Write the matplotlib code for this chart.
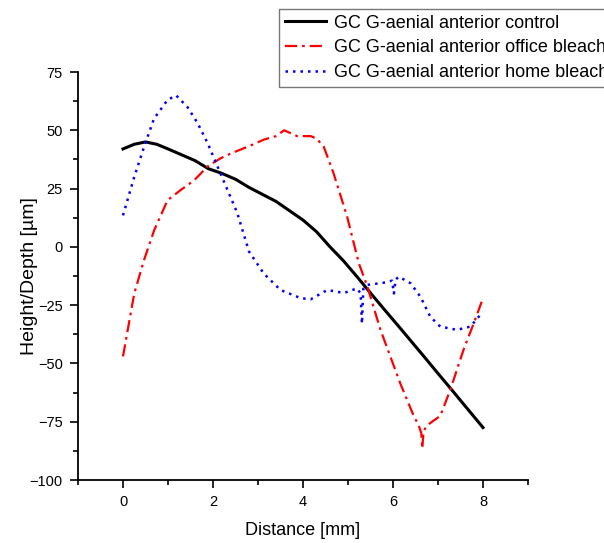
import matplotlib
matplotlib.use("Agg")
import matplotlib.pyplot as plt
from matplotlib.ticker import MultipleLocator

plt.rcParams['font.family'] = ['Liberation Sans', 'DejaVu Sans']

# control (black, solid)
ctrl_x = [0.0, 0.25, 0.5, 0.75, 1.0, 1.3, 1.6, 1.9, 2.2, 2.5, 2.8, 3.1, 3.4, 3.7, 4.0,
          4.3, 4.6, 4.9, 5.2, 5.5, 5.8, 6.1, 6.4, 6.7, 7.0, 7.3, 7.6, 8.0]
ctrl_y = [42.0, 44.0, 45.0, 44.0, 42.0, 39.5, 37.0, 33.5, 31.5, 29.0, 25.5, 22.5, 19.5, 15.5, 11.5,
          6.5, 0.0, -6.0, -12.8, -19.8, -26.7, -33.5, -40.4, -47.3, -54.3, -61.2, -68.2, -77.5]

# office bleach (red, dash-dot)
office_x = [0.0, 0.25, 0.47, 0.69, 0.99, 1.29, 1.58, 1.88, 2.17, 2.39, 2.84, 3.13, 3.4, 3.58,
            3.87, 4.17, 4.3, 4.46, 4.68, 4.98, 5.24, 5.43, 5.72, 6.16, 6.46, 6.57, 6.63, 6.65,
            6.68, 6.76, 7.05, 7.27, 7.57, 7.79, 8.0]
office_y = [-47.0, -20.0, -5.5, 7.0, 20.0, 24.5, 28.5, 34.5, 38.0, 40.0, 43.5, 46.0, 47.5, 50.0,
            47.5, 47.5, 46.5, 43.0, 31.5, 13.0, -7.0, -17.0, -35.5, -58.5, -72.5, -76.5, -80.0, -86.5,
            -79.0, -76.5, -72.5, -61.5, -44.0, -33.0, -22.0]

# home bleach (blue, dotted)
home_x = [0.0, 0.25, 0.47, 0.69, 0.99, 1.18, 1.43, 1.66, 1.88, 2.1, 2.32, 2.54, 2.8, 3.13, 3.5,
          3.95, 4.17, 4.54, 4.91, 5.2, 5.28, 5.31, 5.34, 5.43, 5.79, 5.98, 6.02, 6.06, 6.13,
          6.39, 6.61, 6.83, 7.05, 7.42, 7.72, 7.94, 8.0]
home_y = [13.5, 30.0, 43.0, 55.0, 63.0, 65.0, 60.0, 53.0, 44.5, 34.5, 24.5, 14.5, -2.0, -11.5, -18.5,
          -22.0, -22.5, -18.5, -19.8, -17.8, -20.0, -33.0, -18.0, -16.3, -15.4, -14.5, -20.0, -14.0, -12.8,
          -15.6, -21.4, -30.0, -34.2, -35.6, -34.2, -29.2, -28.0]

labels = ["GC G-aenial anterior control",
          "GC G-aenial anterior office bleach",
          "GC G-aenial anterior home bleach"]

xticks = [0, 2, 4, 6, 8]
yticks = [75, 50, 25, 0, -25, -50, -75, -100]

fig = plt.figure(figsize=(6.04, 5.43), dpi=100)
ax = fig.add_axes([78/604, 1-480/543, 450/604, 408/543])

ax.plot(ctrl_x, ctrl_y, color='black', lw=2.2, ls='-', label=labels[0])
ax.plot(office_x, office_y, color='red', lw=1.6, ls=(0, (5.5, 2.2, 1.2, 2.2)), label=labels[1])
ax.plot(home_x, home_y, color='blue', lw=1.8, ls=(0, (1, 2.0)), label=labels[2])

ax.set_xlim(-1, 9)
ax.set_ylim(-100, 75)
ax.set_xticks(xticks)
ax.set_yticks(yticks)
ax.xaxis.set_minor_locator(MultipleLocator(1))
ax.yaxis.set_minor_locator(MultipleLocator(12.5))
ax.tick_params(which='major', direction='out', length=6, width=1.2, labelsize=10.5, pad=5)
ax.tick_params(which='minor', direction='out', length=3.5, width=1.2)
for s in ['top', 'right']:
    ax.spines[s].set_visible(False)
for s in ['left', 'bottom']:
    ax.spines[s].set_linewidth(1.3)

ax.set_xlabel("Distance [mm]", fontsize=13, labelpad=9)
ax.set_ylabel("Height/Depth [µm]", fontsize=14, labelpad=-6)

leg = fig.legend(loc='upper left', bbox_to_anchor=(279/604, 1-9/543), fontsize=13,
                 frameon=True, fancybox=False, framealpha=1, edgecolor='#777777',
                 borderpad=0.32, labelspacing=0.42, handlelength=2.3, handletextpad=0.4,
                 borderaxespad=0)
leg.get_frame().set_linewidth(1.0)

fig.savefig("out.png", dpi=100)
